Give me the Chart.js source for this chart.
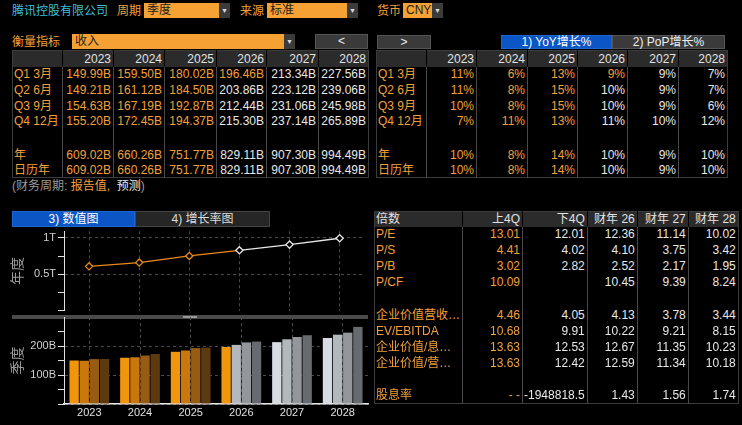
<!DOCTYPE html>
<html>
<head>
<meta charset="utf-8">
<script src="https://cdn.jsdelivr.net/npm/chart.js@4"></script>
<style>
  body { margin: 0; background: #000; width: 742px; height: 425px; overflow: hidden; position: relative;
         font-family: Arial, "Liberation Sans", "Noto Sans CJK SC", sans-serif; font-size: 12px; color: #e6e6e6; }
  .abs { position: absolute; }
  .lbl { color: #f2a03c; line-height: 16px; }
  .dd { background: #f5a133; color: #222; line-height: 15px; padding-left: 3px; box-sizing: border-box; }
  .dd .arr { position: absolute; right: 0; top: 0; width: 11px; height: 100%; background: #3b3b3b; color: #ddd; font-size: 7px; text-align: center; }
  .btn { background: #3a3a3a; color: #eee; text-align: center; line-height: 13px; box-sizing: border-box; border: 1px solid #555; }
  .blue { background: #0b55c4; color: #fff; border: 1px solid #1b65d4; }
  .dark { background: #262626; color: #ddd; border: 1px solid #444; }
  table { border-collapse: collapse; table-layout: fixed; }
  td { padding: 0 2px 0 1px; white-space: nowrap; overflow: hidden; text-align: right; border-left: 1px solid #4a4a4a;
       line-height: 14px; font-size: 12px; }
  td:first-child { text-align: left; border-left: none; }
  tr.hd td { background: #2b2b2b; border-left: 1px solid #000; color: #e2e2e2; }
  tr.hd td:first-child { border-left: none; }
  .o { color: #f2a03c; }
  .w { color: #e8e8e8; }
  .tbl { border: 1px solid #3c3c3c; }
</style>
</head>
<body>
<div class="abs" style="left:12px;top:3px;color:#3fbfd6;line-height:16px">腾讯控股有限公司</div>
<div class="abs lbl" style="left:117px;top:3px">周期</div>
<div class="abs dd" style="left:144px;top:3px;width:86px;height:15px">季度<div class="arr">▼</div></div>
<div class="abs lbl" style="left:240px;top:3px">来源</div>
<div class="abs dd" style="left:267px;top:3px;width:91px;height:15px">标准<div class="arr">▼</div></div>
<div class="abs lbl" style="left:377px;top:3px">货币</div>
<div class="abs dd" style="left:403px;top:3px;width:40px;height:15px">CNY<div class="arr">▼</div></div>

<div class="abs lbl" style="left:12px;top:34px">衡量指标</div>
<div class="abs dd" style="left:72px;top:34px;width:223px;height:15px">收入<div class="arr">▼</div></div>
<div class="abs btn" style="left:315px;top:34px;width:53px;height:15px">&lt;</div>
<div class="abs btn" style="left:377px;top:35px;width:54px;height:14px">&gt;</div>
<div class="abs btn blue" style="left:501px;top:35px;width:111px;height:14px">1) YoY增长%</div>
<div class="abs btn" style="left:612px;top:35px;width:113px;height:14px">2) PoP增长%</div>

<div id="tblLeft" class="abs" style="left:12px;top:50px"></div>
<div id="tblRight" class="abs" style="left:376px;top:50px"></div>
<div class="abs" style="left:12px;top:178px;color:#9a9a9a;line-height:16px">(财务周期: <span class="o">报告值,</span>&nbsp;&nbsp;<span class="w">预测</span>)</div>

<div class="abs btn blue" style="left:12px;top:211px;width:123px;height:16px;line-height:14px">3) 数值图</div>
<div class="abs btn dark" style="left:135px;top:211px;width:135px;height:16px;line-height:14px">4) 增长率图</div>

<div class="abs" style="left:0;top:226px;width:370px;height:90px"><canvas id="annualChart"></canvas></div>
<div class="abs" style="left:12px;top:315px;width:356px;height:4px;background:#4a4a4a"></div>
<div class="abs" style="left:183px;top:316px;width:14px;height:2px;border-top:1px solid #999;border-bottom:1px solid #999;box-sizing:border-box"></div>
<div class="abs" style="left:0;top:316px;width:370px;height:109px"><canvas id="quarterChart"></canvas></div>

<div id="tblMult" class="abs" style="left:374px;top:211px"></div>

<script>
const years = ["2023", "2024", "2025", "2026", "2027", "2028"];
const quarterLabels = ["Q1 3月", "Q2 6月", "Q3 9月", "Q4 12月"];
// 收入, 单位 B (CNY)
const q1 = [149.99, 159.50, 180.02, 196.46, 213.34, 227.56];
const q2 = [149.21, 161.12, 184.50, 203.86, 223.12, 239.06];
const q3 = [154.63, 167.19, 192.87, 212.44, 231.06, 245.98];
const q4 = [155.20, 172.45, 194.37, 215.30, 237.14, 265.89];
const annual = [609.02, 660.26, 751.77, 829.11, 907.30, 994.49];
const calYear = [609.02, 660.26, 751.77, 829.11, 907.30, 994.49];
// YoY %
const yoyQ1 = [11, 6, 13, 9, 9, 7];
const yoyQ2 = [11, 8, 15, 10, 9, 7];
const yoyQ3 = [10, 8, 15, 10, 9, 6];
const yoyQ4 = [7, 11, 13, 11, 10, 12];
const yoyYear = [10, 8, 14, 10, 9, 10];
const yoyCal = [10, 8, 14, 10, 9, 10];
// 实际值个数 (其余为预测)
const actualQuarters = 13; // 到 2026 Q1
const actualYears = 3;

const multCols = ["上4Q", "下4Q", "财年 26", "财年 27", "财年 28"];
const multRows = ["P/E", "P/S", "P/B", "P/CF", "", "企业价值营收…", "EV/EBITDA", "企业价值/息…", "企业价值/营…", "", "股息率"];
const multVals = [
  ["13.01", "12.01", "12.36", "11.14", "10.02"],
  ["4.41", "4.02", "4.10", "3.75", "3.42"],
  ["3.02", "2.82", "2.52", "2.17", "1.95"],
  ["10.09", "", "10.45", "9.39", "8.24"],
  ["", "", "", "", ""],
  ["4.46", "4.05", "4.13", "3.78", "3.44"],
  ["10.68", "9.91", "10.22", "9.21", "8.15"],
  ["13.63", "12.53", "12.67", "11.35", "10.23"],
  ["13.63", "12.42", "12.59", "11.34", "10.18"],
  ["", "", "", "", ""],
  ["- -", "-1948818.5", "1.43", "1.56", "1.74"]
];

const quarters = [q1, q2, q3, q4];
const yoyQuarters = [yoyQ1, yoyQ2, yoyQ3, yoyQ4];

function buildTable(el, colWidths, rowHeights, header, rows) {
  let html = '<table class="tbl"><colgroup>' + colWidths.map(w => `<col style="width:${w}px">`).join("") + "</colgroup>";
  html += `<tr class="hd" style="height:${rowHeights[0]}px">` + header.map(h => `<td>${h}</td>`).join("") + "</tr>";
  rows.forEach((r, i) => {
    html += `<tr style="height:${rowHeights[i + 1]}px">` + r.map(c => `<td class="${c.cls}">${c.text}</td>`).join("") + "</tr>";
  });
  el.innerHTML = html + "</table>";
}

function periodRows(qData, yData, cData, fmt) {
  const rows = [];
  qData.forEach((arr, qi) => {
    rows.push([{ text: quarterLabels[qi], cls: "o" }].concat(arr.map((v, yi) => ({
      text: fmt(v), cls: (yi * 4 + qi < actualQuarters) ? "o" : "w"
    }))));
  });
  rows.push([{ text: "", cls: "" }].concat(years.map(() => ({ text: "", cls: "" }))));
  rows.push([{ text: "年", cls: "o" }].concat(yData.map((v, yi) => ({ text: fmt(v), cls: yi < actualYears ? "o" : "w" }))));
  rows.push([{ text: "日历年", cls: "o" }].concat(cData.map((v, yi) => ({ text: fmt(v), cls: yi < actualYears ? "o" : "w" }))));
  return rows;
}

const periodHeights = [16, 15.7, 15.7, 15.7, 15.7, 17.5, 15.5, 15.5];
buildTable(document.getElementById("tblLeft"), [50, 51, 51, 52, 50, 52, 50], periodHeights,
  [""].concat(years), periodRows(quarters, annual, calYear, v => v.toFixed(2) + "B"));
buildTable(document.getElementById("tblRight"), [50, 50, 51, 50, 50, 51, 49], periodHeights,
  [""].concat(years), periodRows(yoyQuarters, yoyYear, yoyCal, v => v + "%"));

buildTable(document.getElementById("tblMult"), [82, 60, 60, 50, 51, 50],
  [15, 15.9, 15.9, 15.9, 15.9, 17.4, 16, 16, 16, 16, 16, 16],
  ["倍数"].concat(multCols),
  multRows.map((name, i) => [{ text: name, cls: "o" }].concat(multVals[i].map((v, j) => ({ text: v, cls: j === 0 ? "o" : "w" })))));

// ---- charts ----
Chart.defaults.font.family = "Arial, 'Liberation Sans', 'Noto Sans CJK SC', sans-serif";
Chart.defaults.animation = false;

const ORANGE = "#e8891a";
const WHITE = "#e8e8e8";
const actualColors = ["#f0960c", "#c9780c", "#975c12", "#5c3a10"];
const estColors = ["#d6dce2", "#b3b8bd", "#93979b", "#676b6f"];

// 固定 y 轴宽度, 去掉刻度标签带来的上下留白
function fixY(w) { return scale => { scale.width = w; scale.paddingTop = 0; scale.paddingBottom = 0; }; }
function fixHeight(h) { return scale => { scale.height = h; }; }

const annualChart = new Chart(document.getElementById("annualChart"), {
  type: "line",
  data: {
    labels: years,
    datasets: [{
      data: annual,
      borderWidth: 1.3,
      pointStyle: "rectRot",
      pointRadius: 3.6,
      pointBorderWidth: 1.3,
      pointBackgroundColor: "#000",
      pointBorderColor: ctx => ctx.dataIndex < actualYears ? ORANGE : WHITE,
      borderColor: ORANGE,
      segment: { borderColor: ctx => ctx.p0DataIndex < actualYears ? ORANGE : WHITE }
    }]
  },
  options: {
    responsive: true,
    maintainAspectRatio: false,
    layout: { padding: { top: 1, right: 2, bottom: 0, left: 0 } },
    plugins: { legend: { display: false }, tooltip: { enabled: false } },
    scales: {
      x: {
        offset: true,
        afterFit: fixHeight(3),
        ticks: { display: false },
        grid: { color: "#4a4a4a", drawTicks: false },
        border: { display: false, dash: [3, 3] }
      },
      y: {
        min: 0, max: 1090,
        afterFit: fixY(64),
        afterBuildTicks: s => { s.ticks = [0, 250, 500, 750, 1000].map(v => ({ value: v })); },
        ticks: { color: "#cfcfcf", font: { size: 11 }, padding: 2,
          callback: v => v === 1000 ? "1T" : v === 500 ? "0.5T" : "" },
        grid: { color: c => (c.tick && (c.tick.value === 500 || c.tick.value === 1000)) ? "#4a4a4a" : "rgba(0,0,0,0)",
          tickColor: "#e0e0e0", tickLength: 6 },
        border: { color: "#e0e0e0", width: 1, dash: [3, 3] },
        title: { display: true, text: "年度", color: "#9a9a9a", font: { size: 14 }, padding: { top: 10, bottom: 0 } }
      }
    }
  }
});

const quarterChart = new Chart(document.getElementById("quarterChart"), {
  type: "bar",
  data: {
    labels: years,
    datasets: quarters.map((arr, qi) => ({
      label: "Q" + (qi + 1),
      data: arr,
      backgroundColor: arr.map((v, yi) => (yi * 4 + qi < actualQuarters) ? actualColors[qi] : estColors[qi]),
      categoryPercentage: 0.8,
      barPercentage: 0.92
    }))
  },
  options: {
    responsive: true,
    maintainAspectRatio: false,
    layout: { padding: { top: 1, right: 2, bottom: 0, left: 0 } },
    plugins: { legend: { display: false }, tooltip: { enabled: false } },
    scales: {
      x: {
        afterFit: fixHeight(21),
        ticks: { color: "#e0e0e0", font: { size: 11 }, padding: 2 },
        grid: { offset: false, color: "#4a4a4a", drawTicks: false },
        border: { color: "#e8e8e8", width: 1.5, dash: [3, 3] }
      },
      y: {
        min: 0, max: 300,
        afterFit: fixY(64),
        afterBuildTicks: s => { s.ticks = [0, 50, 100, 150, 200, 250].map(v => ({ value: v })); },
        ticks: { color: "#cfcfcf", font: { size: 11 }, padding: 2,
          callback: v => (v === 100 || v === 200) ? v + "B" : "" },
        grid: { color: c => (c.tick && (c.tick.value === 0 || c.tick.value === 100 || c.tick.value === 200)) ? "#4a4a4a" : "rgba(0,0,0,0)",
          tickColor: "#e0e0e0", tickLength: 6 },
        border: { color: "#e0e0e0", width: 1, dash: [3, 3] },
        title: { display: true, text: "季度", color: "#9a9a9a", font: { size: 14 }, padding: { top: 10, bottom: 0 } }
      }
    }
  }
});
</script>
</body>
</html>
